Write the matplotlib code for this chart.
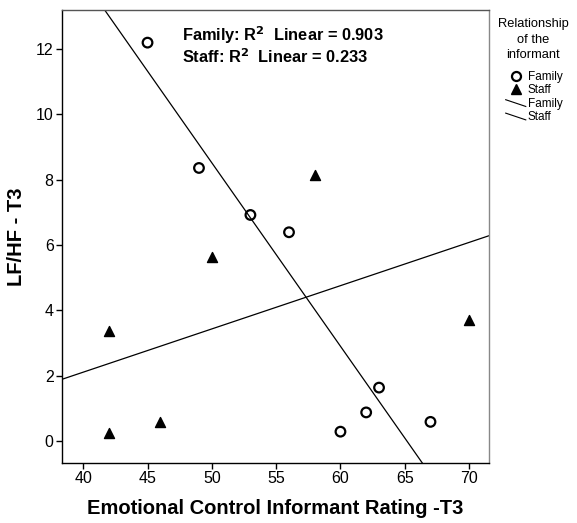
import numpy as np
import matplotlib.pyplot as plt
from matplotlib.lines import Line2D
from matplotlib.legend_handler import HandlerLine2D

plt.rcParams['font.family'] = ['Liberation Sans', 'DejaVu Sans']

# Family informants
family_x = [45, 49, 53, 56, 60, 62, 63, 67]
family_y = [12.2, 8.36, 6.92, 6.39, 0.28, 0.87, 1.63, 0.58]

# Staff informants
staff_x = [42, 42, 46, 50, 58, 70]
staff_y = [0.23, 3.36, 0.58, 5.63, 8.13, 3.70]

r2_family = 0.903
r2_staff = 0.233

xlim = (38.35, 71.55)
ylim = (-0.68, 13.2)


class DiagonalLine(HandlerLine2D):
    # legend glyph drawn as a short falling line, like SPSS does
    def create_artists(self, legend, orig_handle, xdescent, ydescent,
                       width, height, fontsize, trans):
        ln = Line2D([-xdescent, -xdescent + width],
                    [height * 0.95, height * 0.05], color='black', lw=0.8)
        ln.set_transform(trans)
        return [ln]


fig = plt.figure(figsize=(5.77, 5.23), dpi=100)
ax = fig.add_axes([62 / 577, 1 - 463 / 523, (489 - 62) / 577, (463 - 10) / 523])

ax.scatter(family_x, family_y, marker='o', s=48, facecolors='none',
           edgecolors='black', linewidths=1.6, zorder=3)
ax.scatter(staff_x, staff_y, marker='^', s=52, color='black', zorder=3)

xs = np.array(xlim)
bf = np.polyfit(family_x, family_y, 1)
bs = np.polyfit(staff_x, staff_y, 1)
ax.plot(xs, np.polyval(bf, xs), color='black', lw=0.9)
ax.plot(xs, np.polyval(bs, xs), color='black', lw=0.9)

ax.set_xlim(xlim)
ax.set_ylim(ylim)
ax.set_xticks([40, 45, 50, 55, 60, 65, 70])
ax.set_yticks([0, 2, 4, 6, 8, 10, 12])
ax.tick_params(direction='out', length=4, width=1, labelsize=11.5, pad=2)
for s in ax.spines.values():
    s.set_linewidth(1)
ax.spines['top'].set_color('#555555')
ax.spines['right'].set_color('#888888')

ax.set_xlabel('Emotional Control Informant Rating -T3', fontsize=14.5,
              fontweight='bold', labelpad=9)
ax.set_ylabel('LF/HF - T3', fontsize=14.5, fontweight='bold', labelpad=7)

ax.text(0.281, 0.945, 'Family: R$^\\mathbf{2}$  Linear = %.3f' % r2_family,
        transform=ax.transAxes, fontsize=11.8, fontweight='bold', va='center')
ax.text(0.281, 0.897, 'Staff: R$^\\mathbf{2}$  Linear = %.3f' % r2_staff,
        transform=ax.transAxes, fontsize=11.8, fontweight='bold', va='center')

# legend title drawn separately so the gap above the entries matches
fig.text(533 / 577, 1 - 18 / 523, 'Relationship\nof the\ninformant',
         ha='center', va='top', multialignment='center', fontsize=9.3,
         linespacing=1.4)

h_fam = Line2D([], [], marker='o', ls='none', mfc='none', mec='black',
               mew=1.6, ms=6.5)
h_sta = Line2D([], [], marker='^', ls='none', color='black', ms=7)
l_fam = Line2D([], [], color='black')
l_sta = Line2D([], [], color='black')
leg = fig.legend([h_fam, h_sta, l_fam, l_sta],
                 ['Family', 'Staff', 'Family', 'Staff'],
                 loc='upper center', bbox_to_anchor=(534 / 577, 1 - 71 / 523),
                 frameon=False, fontsize=8.5,
                 handlelength=1.7, handleheight=0.6, handletextpad=0.15,
                 labelspacing=0.12, borderaxespad=0, borderpad=0,
                 handler_map={l_fam: DiagonalLine(), l_sta: DiagonalLine()})

fig.savefig('out.png', dpi=100)
